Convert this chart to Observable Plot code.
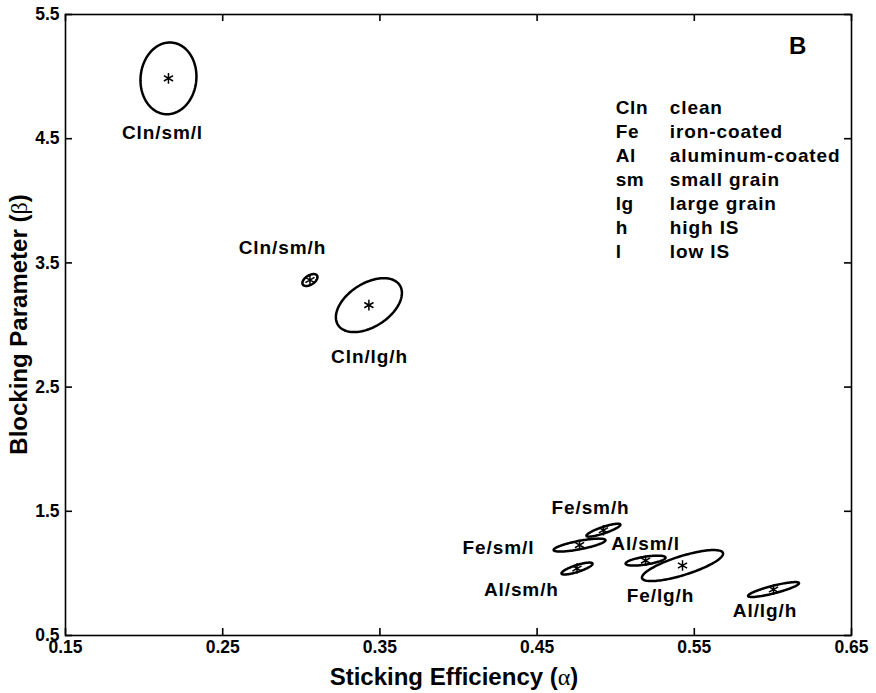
<!DOCTYPE html>
<html>
<head>
<meta charset="utf-8">
<script src="https://cdn.jsdelivr.net/npm/d3@7"></script>
<script src="https://cdn.jsdelivr.net/npm/@observablehq/plot@0.6"></script>
<style>
  body { margin: 0; background: #fff; }
  #chart svg { display: block; }
</style>
</head>
<body>
<div id="chart"></div>
<script>
// ---- data ----
const names = ["Cln/sm/l", "Cln/sm/h", "Cln/lg/h", "Fe/sm/h", "Fe/sm/l", "Al/sm/h", "Al/sm/l", "Fe/lg/h", "Al/lg/h"];
const alpha = [0.2155, 0.3055, 0.343, 0.4922, 0.477, 0.4754, 0.519, 0.5425, 0.6004];
const beta = [4.986, 3.362, 3.16, 1.348, 1.228, 1.039, 1.103, 1.063, 0.870];
// confidence-ellipse half extents (alpha, beta) and correlation
const alphaHalf = [0.0178, 0.0048, 0.021, 0.0108, 0.0165, 0.0099, 0.0127, 0.0258, 0.0162];
const betaHalf = [0.289, 0.048, 0.217, 0.052, 0.052, 0.048, 0.040, 0.125, 0.060];
const correlation = [0.05, 0.5, 0.45, 0.85, 0.75, 0.8, 0.6, 0.77, 0.85];
// label anchor positions
const labelAlpha = [0.2117, 0.288, 0.3434, 0.484, 0.4254, 0.440, 0.519, 0.5285, 0.595];
const labelBeta = [4.543, 3.619, 2.743, 1.529, 1.207, 0.870, 1.24, 0.822, 0.70];
// legend
const legendCodes = ["Cln", "Fe", "Al", "sm", "lg", "h", "l"];
const legendMeanings = ["clean", "iron-coated", "aluminum-coated", "small grain", "large grain", "high IS", "low IS"];
const panelLetter = "B";
// axes
const xTicks = [0.15, 0.25, 0.35, 0.45, 0.55, 0.65];
const yTicks = [0.5, 1.5, 2.5, 3.5, 4.5, 5.5];
const xDomain = [0.15, 0.65];
const yDomain = [0.5, 5.5];

// ---- build tables ----
const centers = names.map((n, i) => ({name: n, a: alpha[i], b: beta[i]}));
const labels = names.map((n, i) => ({name: n, a: labelAlpha[i], b: labelBeta[i]}));
const ellipsePts = [];
names.forEach((n, i) => {
  const phi = Math.acos(correlation[i]);
  for (let k = 0; k <= 120; k++) {
    const t = (k / 120) * 2 * Math.PI;
    ellipsePts.push({
      name: n,
      a: alpha[i] + alphaHalf[i] * Math.cos(t),
      b: beta[i] + betaHalf[i] * Math.cos(t - phi)
    });
  }
});

const W = 876, H = 693;
const mL = 65, mR = 25, mT = 14, mB = 58;
const fw = W - mL - mR, fh = H - mT - mB;
const tick = 7;
const font = "'Liberation Sans', Arial, Helvetica, sans-serif";
const xFmt = d => d.toFixed(2);
const yFmt = d => d.toFixed(1);

const chart = Plot.plot({
  width: W,
  height: H,
  marginLeft: mL,
  marginRight: mR,
  marginTop: mT,
  marginBottom: mB,
  style: {fontFamily: font, fontWeight: "bold", fontSize: "17.5px", color: "black", background: "white"},
  x: {domain: xDomain, label: null},
  y: {domain: yDomain, label: null},
  marks: [
    Plot.frame({stroke: "black", strokeWidth: 1.6}),
    // inward ticks on all four sides
    Plot.ruleX(xTicks, {x: d => d, insetTop: fh - tick, stroke: "black", strokeWidth: 1.6}),
    Plot.ruleX(xTicks, {x: d => d, insetBottom: fh - tick, stroke: "black", strokeWidth: 1.6}),
    Plot.ruleY(yTicks, {y: d => d, insetRight: fw - tick, stroke: "black", strokeWidth: 1.6}),
    Plot.ruleY(yTicks, {y: d => d, insetLeft: fw - tick, stroke: "black", strokeWidth: 1.6}),
    Plot.axisX({ticks: xTicks, tickSize: 0, tickPadding: 5, tickFormat: xFmt, label: null}),
    Plot.axisY({ticks: yTicks, tickSize: 0, tickPadding: 6, tickFormat: yFmt, label: null}),
    // ellipses
    Plot.line(ellipsePts, {x: "a", y: "b", z: "name", stroke: "black", strokeWidth: 2.5, curve: "linear-closed"}),
    Plot.dot(centers, {x: "a", y: "b", symbol: "asterisk", r: 5, stroke: "black", strokeWidth: 1.5}),
    // labels
    Plot.text(labels, {x: "a", y: "b", text: "name", fontSize: 19, fontWeight: "bold", fill: "black"}),
    // legend
    Plot.text([legendCodes.join("\n")], {x: () => 0.5, y: () => 4.84, text: d => d, textAnchor: "start", lineAnchor: "top", lineHeight: 24 / 19, fontSize: 19, fontWeight: "bold", fill: "black"}),
    Plot.text([legendMeanings.join("\n")], {x: () => 0.5344, y: () => 4.84, text: d => d, textAnchor: "start", lineAnchor: "top", lineHeight: 24 / 19, fontSize: 19, fontWeight: "bold", fill: "black"}),
    Plot.text([panelLetter], {x: () => 0.6157, y: () => 5.243, text: d => d, fontSize: 24, fontWeight: "bold", fill: "black"})
  ]
});

const svg = d3.select(chart);
const tickStrings = new Set([...xTicks.map(xFmt), ...yTicks.map(yFmt)]);
svg.selectAll("text").each(function () {
  const first = this.querySelector("tspan");
  const t = first ? first.textContent : this.textContent;
  if (names.includes(t)) this.setAttribute("letter-spacing", "0.9");
  else if (legendMeanings.includes(t)) this.setAttribute("letter-spacing", "0.9");
  else if (legendCodes.includes(t)) this.setAttribute("letter-spacing", "0.6");
  else if (tickStrings.has(this.textContent)) {
    this.setAttribute("font-size", "17.5");
    this.style.fontSize = "17.5px";
    this.setAttribute("font-weight", "bold");
  }
});
// x-axis title
const xt = svg.append("text")
  .attr("x", mL + fw / 2 - 4)
  .attr("y", 685)
  .attr("text-anchor", "middle")
  .attr("font-family", font)
  .attr("font-weight", "bold")
  .attr("font-size", 24)
  .attr("fill", "black");
xt.append("tspan").text("Sticking Efficiency (");
xt.append("tspan").attr("font-weight", "normal").attr("font-family", "'Liberation Serif', serif").text("α");
xt.append("tspan").text(")");
// y-axis title
const yt = svg.append("text")
  .attr("transform", `translate(27,${mT + fh / 2}) rotate(-90)`)
  .attr("text-anchor", "middle")
  .attr("font-family", font)
  .attr("font-weight", "bold")
  .attr("font-size", 24)
  .attr("fill", "black");
yt.append("tspan").text("Blocking Parameter (");
yt.append("tspan").attr("font-weight", "normal").attr("font-family", "'Liberation Serif', serif").text("β");
yt.append("tspan").text(")");

document.getElementById("chart").appendChild(chart);
</script>
</body>
</html>
